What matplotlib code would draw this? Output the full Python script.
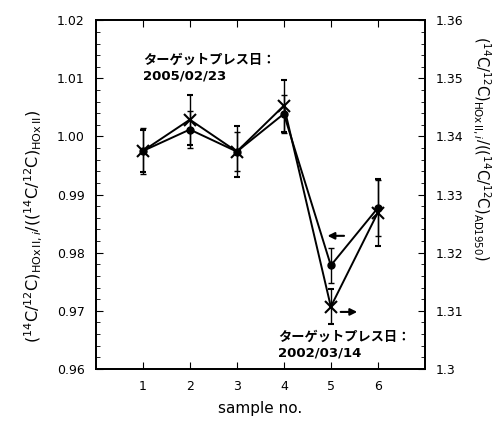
import matplotlib as mpl
mpl.use('Agg')
import matplotlib.pyplot as plt
from matplotlib.ticker import MultipleLocator, FixedLocator, FixedFormatter

plt.rcParams['font.family'] = ['DejaVu Sans', 'Noto Sans CJK JP']
plt.rcParams['mathtext.fontset'] = 'dejavusans'

# data
sample_no = [1, 2, 3, 4, 5, 6]
# circles: ratio to HOxII (left axis)
ratio_hox = [0.9975, 1.0012, 0.9974, 1.0039, 0.9778, 0.9877]
err_hox = [0.0040, 0.0032, 0.0034, 0.0033, 0.0030, 0.0048]
# crosses: ratio to AD1950 (right axis)
ratio_ad = [1.3375, 1.3429, 1.3374, 1.3453, 1.3107, 1.3269]
err_ad = [0.0036, 0.0043, 0.0044, 0.0045, 0.0030, 0.0058]

left_ticks = [0.96, 0.97, 0.98, 0.99, 1.00, 1.01, 1.02]
left_labels = ['0.96', '0.97', '0.98', '0.99', '1.00', '1.01', '1.02']
right_ticks = [1.30, 1.31, 1.32, 1.33, 1.34, 1.35, 1.36]
right_labels = ['1.3', '1.31', '1.32', '1.33', '1.34', '1.35', '1.36']

fig = plt.figure(figsize=(4.94, 4.23), dpi=100)
ax = fig.add_axes([0.194, 0.128, 0.666, 0.824])
ax2 = ax.twinx()

ax.errorbar(sample_no, ratio_hox, yerr=err_hox, color='black', lw=1.4,
            marker='o', ms=5, elinewidth=1.0, capsize=2, capthick=1.0)
ax2.errorbar(sample_no, ratio_ad, yerr=err_ad, color='black', lw=1.4,
             marker='x', ms=9, mew=1.5, elinewidth=1.0, capsize=2, capthick=1.0)

ax.set_xlim(0, 7)
ax.set_ylim(0.96, 1.02)
ax2.set_ylim(1.30, 1.36)

ax.xaxis.set_major_locator(FixedLocator(sample_no))
ax.yaxis.set_major_locator(FixedLocator(left_ticks))
ax.yaxis.set_major_formatter(FixedFormatter(left_labels))
ax.yaxis.set_minor_locator(MultipleLocator(0.002))
ax2.yaxis.set_major_locator(FixedLocator(right_ticks))
ax2.yaxis.set_major_formatter(FixedFormatter(right_labels))
ax2.yaxis.set_minor_locator(MultipleLocator(0.002))

ax.tick_params(axis='both', which='both', direction='in', labelsize=9)
ax.tick_params(axis='x', top=True, length=5, pad=8)
ax.tick_params(axis='y', which='major', length=5, pad=8)
ax.tick_params(axis='y', which='minor', length=3)
ax2.tick_params(axis='y', which='both', direction='in', labelsize=9, pad=8)
ax2.tick_params(axis='y', which='major', length=5)
ax2.tick_params(axis='y', which='minor', length=3)
for a in (ax, ax2):
    for s in a.spines.values():
        s.set_linewidth(1.3)

ax.set_xlabel('sample no.', fontsize=11, labelpad=6)

fig.text(0.067, 0.465,
         r'$(^{14}\mathrm{C}/^{12}\mathrm{C})_{\mathrm{HOx\,II},i}/((^{14}\mathrm{C}/^{12}\mathrm{C})_{\mathrm{HOx\,II}})$',
         rotation=90, ha='center', va='center', fontsize=11.5)
fig.text(0.975, 0.65,
         r'$(^{14}\mathrm{C}/^{12}\mathrm{C})_{\mathrm{HOx\,II},i}/((^{14}\mathrm{C}/^{12}\mathrm{C})_{\mathrm{AD1950}})$',
         rotation=270, ha='center', va='center', fontsize=10.5)

ax.text(1.0, 1.0118, 'ターゲットプレス日：\n2005/02/23', fontsize=9.5,
        fontweight='bold', ha='left', va='center', linespacing=1.3)
ax.text(3.87, 0.9641, 'ターゲットプレス日：\n2002/03/14', fontsize=9.5,
        fontweight='bold', ha='left', va='center', linespacing=1.3)

ax.annotate('', xy=(4.87, 0.9829), xytext=(5.34, 0.9829),
            arrowprops=dict(arrowstyle='-|>', color='black', lw=1.5, mutation_scale=10))
ax2.annotate('', xy=(5.62, 1.3098), xytext=(5.15, 1.3098),
             arrowprops=dict(arrowstyle='-|>', color='black', lw=1.5, mutation_scale=10))

fig.savefig('out.png', dpi=100)
